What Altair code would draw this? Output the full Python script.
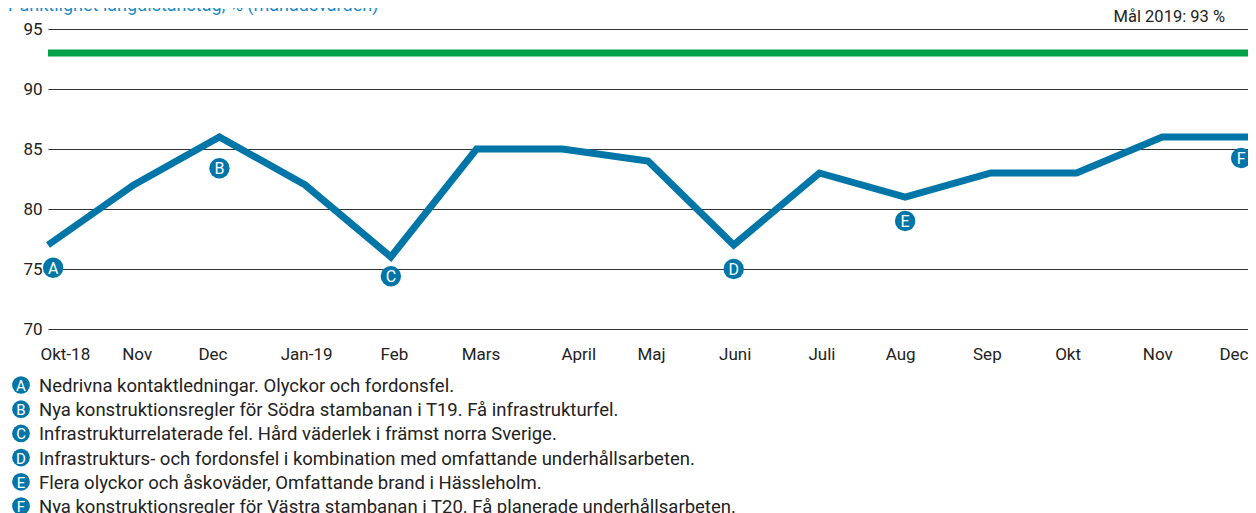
import json
import altair as alt
import pandas as pd

# ---- data ----
months = ["Okt-18", "Nov", "Dec", "Jan-19", "Feb", "Mars", "April", "Maj",
          "Juni", "Juli", "Aug", "Sep", "Okt", "Nov", "Dec"]
punktlighet = [77, 82, 86, 82, 76, 85, 85, 84, 77, 83, 81, 83, 83, 86, 86]
goal_value = 93
goal_label = "Mål 2019: 93 %"
title_text = "Punktlighet långdistanståg, % (månadsvärden)"
y_ticks = [70, 75, 80, 85, 90, 95]

ann_letters = ["A", "B", "C", "D", "E", "F"]
ann_x = [0.06, 2, 4, 8, 10, 13.92]
ann_y = [75.1, 83.4, 74.4, 75.0, 79.0, 84.25]
legend_texts = [
    "Nedrivna kontaktledningar. Olyckor och fordonsfel.",
    "Nya konstruktionsregler för Södra stambanan i T19. Få infrastrukturfel.",
    "Infrastrukturrelaterade fel. Hård väderlek i främst norra Sverige.",
    "Infrastrukturs- och fordonsfel i kombination med omfattande underhållsarbeten.",
    "Flera olyckor och åskoväder, Omfattande brand i Hässleholm.",
    "Nya konstruktionsregler för Västra stambanan i T20. Få planerade underhållsarbeten.",
]

BLUE = "#0076a8"
GREEN = "#00a04a"
TEXT = "#222222"
FONT = "Roboto"

# small label nudges (style) so the month labels sit as in the reference
label_nudge = [-8, 3, -7, 1, 3, 4, 16, 3, 1, 2, -5, -4, -9, -5, 0]

df_line = pd.DataFrame({"i": list(range(len(months))), "v": punktlighet})
df_goal = pd.DataFrame({"goal": [goal_value], "label": [goal_label]})
df_ann = pd.DataFrame({"i": ann_x, "v": ann_y, "letter": ann_letters})
df_leg = pd.DataFrame({"row": list(range(len(ann_letters))), "letter": ann_letters, "text": legend_texts})
df_title = pd.DataFrame({"t": [title_text]})

W, H = 1200, 300
xscale = alt.Scale(domain=[0, 14], nice=False, zero=False)
yscale = alt.Scale(domain=[70, 95], nice=False, zero=False)

label_expr = json.dumps(months) + "[datum.value]"
offset_conds = [{"test": f"datum.value == {k}", "value": n}
                for k, n in enumerate(label_nudge) if n != 0]

x_axis = alt.Axis(
    values=list(range(len(months))), labelExpr=label_expr, grid=False, domain=False,
    ticks=False, labelFontSize=17, labelColor=TEXT, labelFont=FONT, labelPadding=17,
    labelFlush=True,
    labelOffset={"condition": offset_conds, "value": 0},
    title=None,
)
y_axis = alt.Axis(
    values=y_ticks, grid=True, gridColor="#333333", gridWidth=1, domain=False,
    ticks=False, labelPadding=6, labelFontSize=17, labelColor=TEXT, labelFont=FONT,
    title=None,
)

line = alt.Chart(df_line).mark_line(
    color=BLUE, strokeWidth=7, strokeJoin="miter", strokeCap="butt"
).encode(
    x=alt.X("i:Q", scale=xscale, axis=x_axis),
    y=alt.Y("v:Q", scale=yscale, axis=y_axis),
)

goal = alt.Chart(df_goal).mark_rule(color=GREEN, strokeWidth=7).encode(
    y=alt.Y("goal:Q", scale=yscale)
)

goal_text = alt.Chart(df_goal).mark_text(
    align="right", baseline="middle", fontSize=16.5, font=FONT, color=TEXT, dx=-23, dy=-12
).encode(
    x=alt.datum(14, scale=xscale),
    y=alt.datum(95, scale=yscale),
    text="label:N",
)

ann_circ = alt.Chart(df_ann).mark_circle(size=415, opacity=1, color=BLUE).encode(
    x=alt.X("i:Q", scale=xscale), y=alt.Y("v:Q", scale=yscale)
)
ann_txt = alt.Chart(df_ann).mark_text(
    color="white", fontSize=16, font=FONT, align="center", baseline="middle", dy=1
).encode(
    x=alt.X("i:Q", scale=xscale), y=alt.Y("v:Q", scale=yscale),
    text="letter:N"
)

title = alt.Chart(df_title).mark_text(
    color="#1a8bc6", fontSize=18, font=FONT, align="left", baseline="alphabetic"
).encode(x=alt.value(-40), y=alt.value(-18), text="t:N")

main = alt.layer(line, goal, goal_text, ann_circ, ann_txt, title)

leg_y = alt.Y("row:Q", scale=alt.Scale(domain=[0, 5], range=[356, 477]), axis=None)
leg_circ = alt.Chart(df_leg).mark_circle(size=314, opacity=1, color=BLUE).encode(
    x=alt.value(-27), y=leg_y
)
leg_letter = alt.Chart(df_leg).mark_text(
    color="white", fontSize=15, font=FONT, align="center", baseline="middle", dy=1
).encode(x=alt.value(-27), y=leg_y, text="letter:N")
leg_text = alt.Chart(df_leg).mark_text(
    color=TEXT, fontSize=18.5, font=FONT, align="left", baseline="middle", dy=1
).encode(x=alt.value(-9), y=leg_y, text="text:N")
legend = alt.layer(leg_circ, leg_letter, leg_text)

chart = alt.layer(main, legend).resolve_scale(y="independent").properties(
    width=W, height=H,
    autosize=alt.AutoSizeParams(type="none"),
    padding={"left": 40, "top": 21, "right": 0, "bottom": 184},
).configure_view(stroke=None)

chart.save("out.html", embed_options={"renderer": "svg", "actions": False})
